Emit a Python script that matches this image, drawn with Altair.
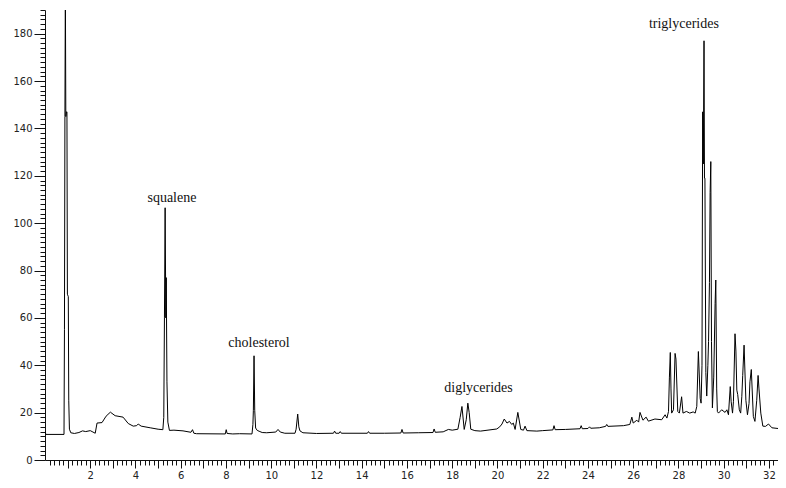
import altair as alt
import pandas as pd

# retention time (min) and detector response
time = [
    0.00, 0.02, 0.03, 0.84, 0.86, 0.88, 0.90, 0.92, 0.95, 0.97, 0.99, 1.03, 1.05, 1.08, 1.14,
    1.30, 1.50, 1.66, 1.80, 2.00, 2.12, 2.22, 2.30, 2.52, 2.70, 2.89, 3.10, 3.45, 3.68, 3.90,
    4.05, 4.12, 4.25, 4.65, 5.00, 5.21, 5.25, 5.28, 5.31, 5.34, 5.36, 5.39, 5.43, 5.50, 5.70,
    6.10, 6.45, 6.52, 6.58, 6.70, 7.97, 8.01, 8.05, 8.30, 8.60, 9.15, 9.19, 9.21, 9.24, 9.27,
    9.31, 9.38, 9.50, 9.60, 9.80, 10.20, 10.30, 10.40, 10.60, 11.05, 11.10, 11.17, 11.22, 11.27,
    11.40, 12.00, 12.75, 12.80, 12.85, 13.00, 13.05, 13.10, 14.25, 14.30, 14.35, 15.00, 15.73,
    15.78, 15.83, 16.50, 17.15, 17.20, 17.25, 17.60, 17.83, 18.00, 18.25, 18.35, 18.43, 18.53,
    18.62, 18.69, 18.75, 18.82, 19.00, 19.25, 19.97, 20.10, 20.20, 20.30, 20.42, 20.53, 20.63,
    20.70, 20.78, 20.90, 21.03, 21.15, 21.22, 21.30, 21.74, 22.00, 22.45, 22.50, 22.55, 23.00,
    23.65, 23.70, 23.75, 24.00, 24.07, 24.12, 24.50, 24.78, 24.83, 24.88, 25.57, 25.85, 25.94,
    26.00, 26.16, 26.24, 26.30, 26.43, 26.57, 26.67, 26.96, 27.26, 27.41, 27.49, 27.56, 27.60,
    27.64, 27.67, 27.70, 27.78, 27.85, 27.89, 27.97, 28.04, 28.14, 28.20, 28.35, 28.50, 28.65,
    28.74, 28.81, 28.88, 28.96, 29.00, 29.04, 29.07, 29.10, 29.13, 29.15, 29.17, 29.21, 29.25,
    29.30, 29.33, 29.37, 29.40, 29.43, 29.46, 29.50, 29.56, 29.62, 29.65, 29.69, 29.72, 29.77,
    29.91, 30.06, 30.14, 30.21, 30.29, 30.33, 30.39, 30.43, 30.50, 30.54, 30.58, 30.62, 30.69,
    30.75, 30.80, 30.84, 30.90, 30.98, 31.05, 31.12, 31.16, 31.22, 31.31, 31.38, 31.46, 31.52,
    31.56, 31.64, 31.73, 31.85, 31.98, 32.13, 32.40, 32.76,
]
response = [
    12.0, 12.0, 10.8, 10.8, 55.0, 145.0, 200.0, 145.0, 147.0, 147.0, 70.0, 69.0, 25.0, 13.0, 11.5,
    11.2, 11.6, 12.3, 12.0, 12.4, 11.8, 11.3, 15.6, 15.8, 18.5, 20.2, 18.7, 18.1, 15.4, 14.3,
    14.5, 15.2, 14.3, 13.6, 13.0, 12.8, 18.0, 60.0, 106.5, 60.0, 77.0, 33.0, 16.0, 12.5, 12.6,
    12.3, 11.7, 12.8, 11.3, 11.1, 11.0, 12.8, 11.2, 11.0, 11.1, 11.0, 15.0, 21.0, 44.0, 21.0,
    13.5, 12.5, 12.0, 11.6, 11.5, 11.8, 12.9, 11.8, 11.3, 11.3, 13.0, 19.4, 14.0, 12.3,
    11.5, 11.2, 11.3, 12.2, 11.3, 11.3, 12.0, 11.3, 11.3, 12.0, 11.3, 11.3, 11.4,
    12.9, 11.4, 11.5, 11.6, 13.1, 11.7, 11.9, 12.9, 12.6, 13.0, 18.0, 22.6, 12.9,
    17.0, 24.0, 20.0, 13.0, 12.4, 12.2, 13.1, 14.0, 15.2, 17.3, 15.6, 16.3, 15.0,
    15.6, 12.9, 20.1, 12.9, 12.6, 14.3, 12.4, 12.2, 12.4, 12.7, 14.5, 12.8, 12.9,
    13.2, 14.5, 13.2, 13.3, 14.0, 13.4, 13.6, 14.2, 15.0, 14.2, 14.5, 15.0, 18.1,
    15.6, 16.8, 16.0, 20.1, 16.8, 18.1, 16.4, 17.3, 17.0, 19.1, 17.7, 20.5, 35.0,
    45.4, 30.0, 19.8, 21.2, 45.0, 42.6, 20.5, 19.8, 26.7, 19.8, 20.5, 19.8, 20.3,
    19.8, 22.6, 45.8, 26.0, 24.0, 40.0, 147.0, 125.0, 177.0, 119.0, 119.0, 37.0, 27.0,
    40.0, 50.0, 75.0, 113.0, 126.0, 50.0, 22.0, 35.0, 66.0, 76.0, 30.0, 20.5, 19.8,
    21.2, 20.1, 21.2, 19.1, 31.0, 24.6, 19.8, 24.6, 53.3, 46.0, 29.5, 27.6, 21.2,
    19.8, 26.7, 35.7, 48.5, 25.2, 19.1, 23.9, 33.0, 38.2, 18.4, 16.3, 25.2, 35.7,
    30.0, 19.8, 14.3, 14.2, 15.2, 13.6, 13.3, 13.1,
]

label_text = ["squalene", "cholesterol", "diglycerides", "triglycerides"]
label_time = [5.61, 9.46, 19.16, 28.24]
label_resp = [110.6, 49.5, 30.6, 184.0]

x_tick_values = [round(0.2 * i, 1) for i in range(1, 163)]
y_tick_values = list(range(0, 191, 2))

trace = pd.DataFrame({"t": time, "v": response})
labels = pd.DataFrame({"name": label_text, "t": label_time, "v": label_resp})

x_scale = alt.Scale(domain=[0, 32.4], nice=False, zero=False)
y_scale = alt.Scale(domain=[0, 190], nice=False)

x_axis = alt.Axis(
    title=None,
    values=x_tick_values,
    tickCount=1000,
    grid=False,
    labelOverlap=False,
    labelFlush=False,
    labelExpr="(abs(datum.value - round(datum.value / 2) * 2) < 0.001) ? format(datum.value, 'd') : ''",
    tickSize={"condition": {"test": "abs(datum.value - round(datum.value)) < 0.001", "value": 8}, "value": 5},
    labelPadding=2,
    labelFont="DejaVu Sans",
    labelFontSize=10,
    labelColor="#222",
    tickColor="#111",
    domainColor="#111",
)
y_axis = alt.Axis(
    title=None,
    values=y_tick_values,
    tickCount=1000,
    grid=False,
    labelOverlap=False,
    labelFlush=False,
    labelExpr="(datum.value % 20 === 0) ? format(datum.value, 'd') : ''",
    tickSize={"condition": {"test": "datum.value % 20 === 0", "value": 11}, "value": 5},
    labelPadding=2,
    labelFont="DejaVu Sans",
    labelFontSize=10,
    labelColor="#222",
    tickColor="#111",
    domainColor="#111",
)

line = alt.Chart(trace).mark_line(color="#000", strokeWidth=1, clip=True, interpolate="linear").encode(
    x=alt.X("t:Q", scale=x_scale, axis=x_axis),
    y=alt.Y("v:Q", scale=y_scale, axis=y_axis),
)

text = alt.Chart(labels).mark_text(
    font="Liberation Serif", fontSize=14, color="#111", align="center", baseline="middle"
).encode(
    x=alt.X("t:Q", scale=x_scale, axis=x_axis),
    y=alt.Y("v:Q", scale=y_scale, axis=y_axis),
    text="name:N",
)

chart = (
    alt.layer(line, text)
    .properties(
        width=733,
        height=450,
        autosize=alt.AutoSizeParams(type="none"),
        padding={"left": 37, "top": 2, "right": 0, "bottom": 20},
    )
    .configure_view(stroke=None)
)

chart.save("out.html", embed_options={"renderer": "svg", "actions": False})
